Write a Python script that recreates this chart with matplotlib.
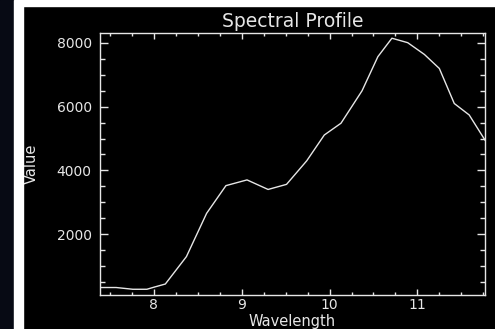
import matplotlib
matplotlib.use("Agg")
import matplotlib.pyplot as plt
from matplotlib.patches import Rectangle
from matplotlib.ticker import MultipleLocator

# spectral profile, values
wavelength = [7.39, 7.57, 7.76, 7.92, 8.00, 8.13, 8.37, 8.60, 8.82, 9.06, 9.30, 9.51,
              9.74, 9.94, 10.13, 10.37, 10.55, 10.71, 10.89, 11.08, 11.25, 11.42, 11.59, 11.77]
value = [320, 320, 265, 265, 330, 430, 1290, 2650, 3520, 3700, 3400, 3560,
         4300, 5110, 5480, 6500, 7570, 8150, 8010, 7640, 7200, 6100, 5740, 4950]

x_major = [8, 9, 10, 11]
y_major = [2000, 4000, 6000, 8000]

fg = "#e6e6e6"

fig = plt.figure(figsize=(4.95, 3.29), dpi=100, facecolor="black")
# window frame pieces: dark strip, white bar on left, white strip on top
fig.patches.append(Rectangle((0, 0), 13 / 495, 1, transform=fig.transFigure,
                             color="#070a14", zorder=0))
fig.patches.append(Rectangle((14 / 495, 0), 9 / 495, 1, transform=fig.transFigure,
                             color="white", zorder=0))
fig.patches.append(Rectangle((23 / 495, 1 - 5.5 / 329), 1, 5.5 / 329,
                             transform=fig.transFigure, color="white", zorder=0))

ax = fig.add_axes([100 / 495, 34 / 329, 385 / 495, 262 / 329])
ax.set_facecolor("black")
ax.plot(wavelength, value, color=fg, lw=1.0)

ax.set_xlim(7.386, 11.77)
ax.set_ylim(85, 8314)
ax.set_xticks(x_major)
ax.set_yticks(y_major)
ax.xaxis.set_minor_locator(MultipleLocator(0.25))
ax.yaxis.set_minor_locator(MultipleLocator(500))

for s in ax.spines.values():
    s.set_color(fg)
    s.set_linewidth(1.0)

ax.tick_params(axis="both", which="both", direction="in", colors=fg,
               top=True, right=True, labelsize=10, width=1.0)
ax.tick_params(axis="x", which="major", length=4, pad=2.5)
ax.tick_params(axis="x", which="minor", length=2.2)
ax.tick_params(axis="y", which="major", length=6, pad=6)
ax.tick_params(axis="y", which="minor", length=3.5)

ax.set_title("Spectral Profile", color=fg, fontsize=13.5, pad=4)
ax.set_xlabel("Wavelength", color=fg, fontsize=10.5)
ax.set_ylabel("Value", color=fg, fontsize=10.5)
ax.xaxis.set_label_coords(0.5, -0.072)
ax.yaxis.set_label_coords(-0.158, 0.5)

fig.savefig("out.png", dpi=100, facecolor=fig.get_facecolor())
